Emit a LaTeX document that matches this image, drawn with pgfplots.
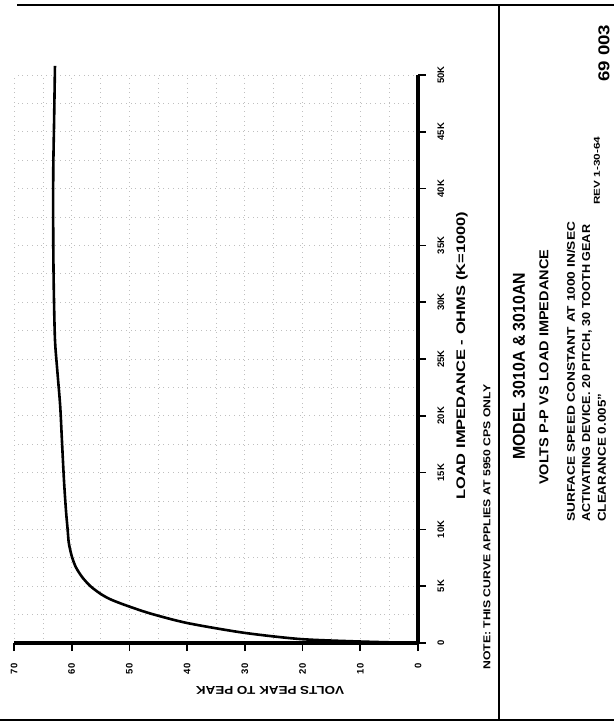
\documentclass[border=0pt]{standalone}
\usepackage{fontspec}
\setmainfont{Liberation Sans}
\usepackage{graphicx}
\usepackage{pgfplots}
\pgfplotsset{compat=1.18}
% stretch a line of lettering to a given length and cap height
\newcommand{\lettr}[3]{\resizebox{#1}{#2}{\bfseries #3}}
\begin{document}
\begin{tikzpicture}
\useasboundingbox (0,0) rectangle (614pt,724pt);
\begin{axis}[
  at={(14pt,81pt)}, anchor=south west,
  scale only axis, width=404pt, height=568pt,
  xmin=0, xmax=70, ymin=0, ymax=50,
  x dir=reverse,
  axis x line*=bottom, axis y line*=right,
  axis line style={line width=3.5pt, black},
  xtick={0,10,...,70}, ytick={0,5,...,50},
  xticklabels={0,10,20,30,40,50,60,70},
  yticklabels={0,5K,10K,15K,20K,25K,30K,35K,40K,45K,50K},
  minor x tick num=1, minor y tick num=1,
  tick align=outside,
  major tick length=8pt, minor tick length=0pt,
  major tick style={line width=1.6pt, black},
  grid=both,
  grid style={gray!50, line width=0.7pt, dash pattern=on 0.7pt off 4pt},
  xticklabel style={yshift=-9pt, rotate=90, anchor=east, font=\bfseries\fontsize{9.5}{9.5}\selectfont},
  yticklabel style={xshift=8pt, rotate=90, anchor=north, font=\bfseries\fontsize{9.5}{9.5}\selectfont},
  clip=false,
]
\addplot[black, line width=2.6pt, smooth, tension=0.45] coordinates {
  (0,0) (10.05,0.13) (20.45,0.35) (30.3,0.91) (40.0,1.76) (46.4,2.6)
  (50.8,3.35) (53.4,3.87) (55.1,4.36) (56.8,5.02) (58.2,5.81) (59.3,6.69)
  (60.0,7.66) (60.5,8.8) (60.7,9.95) (61.0,11.7) (61.35,14.4) (61.7,17.9)
  (62.0,20.9) (62.5,24) (62.9,26.7) (63.1,31) (63.2,35.5) (63.2,41.4)
  (63.05,46) (62.9,50.8)
};
\end{axis}
% frame of the sheet
\draw[line width=1.5pt] (17pt,719pt) -- (614pt,719pt);
\draw[line width=2pt] (0pt,4pt) -- (614pt,4pt);
\draw[line width=1.2pt] (499pt,4pt) -- (499pt,719pt);
% axis titles and note
\node[rotate=180, inner sep=0] at (270pt,34pt) {\lettr{148pt}{8pt}{VOLTS PEAK TO PEAK}};
\node[rotate=90, anchor=west, inner sep=0] at (462pt,224pt) {\lettr{288pt}{9pt}{LOAD IMPEDANCE - OHMS (K=1000)}};
\node[rotate=90, anchor=west, inner sep=0] at (487pt,54pt) {\lettr{285pt}{7pt}{NOTE: THIS CURVE APPLIES AT 5950 CPS ONLY}};
% title block
\node[rotate=90, anchor=west, inner sep=0] at (519pt,264pt) {\lettr{187pt}{12pt}{MODEL 3010A \& 3010AN}};
\node[rotate=90, anchor=west, inner sep=0] at (544pt,239pt) {\lettr{235pt}{9pt}{VOLTS P-P VS LOAD IMPEDANCE}};
\node[rotate=90, anchor=west, inner sep=0] at (571pt,202pt) {\lettr{300pt}{8pt}{SURFACE SPEED CONSTANT AT 1000 IN/SEC}};
\node[rotate=90, anchor=west, inner sep=0] at (587pt,202pt) {\lettr{297pt}{8pt}{ACTIVATING DEVICE. 20 PITCH, 30 TOOTH GEAR}};
\node[rotate=90, anchor=west, inner sep=0] at (602pt,202pt) {\lettr{128pt}{8pt}{CLEARANCE 0.005''}};
\node[rotate=90, anchor=west, inner sep=0] at (597pt,519pt) {\lettr{68pt}{6pt}{REV 1-30-64}};
\node[rotate=90, anchor=west, inner sep=0] at (604pt,642pt) {\lettr{57pt}{11pt}{69 003}};
\end{tikzpicture}
\end{document}
